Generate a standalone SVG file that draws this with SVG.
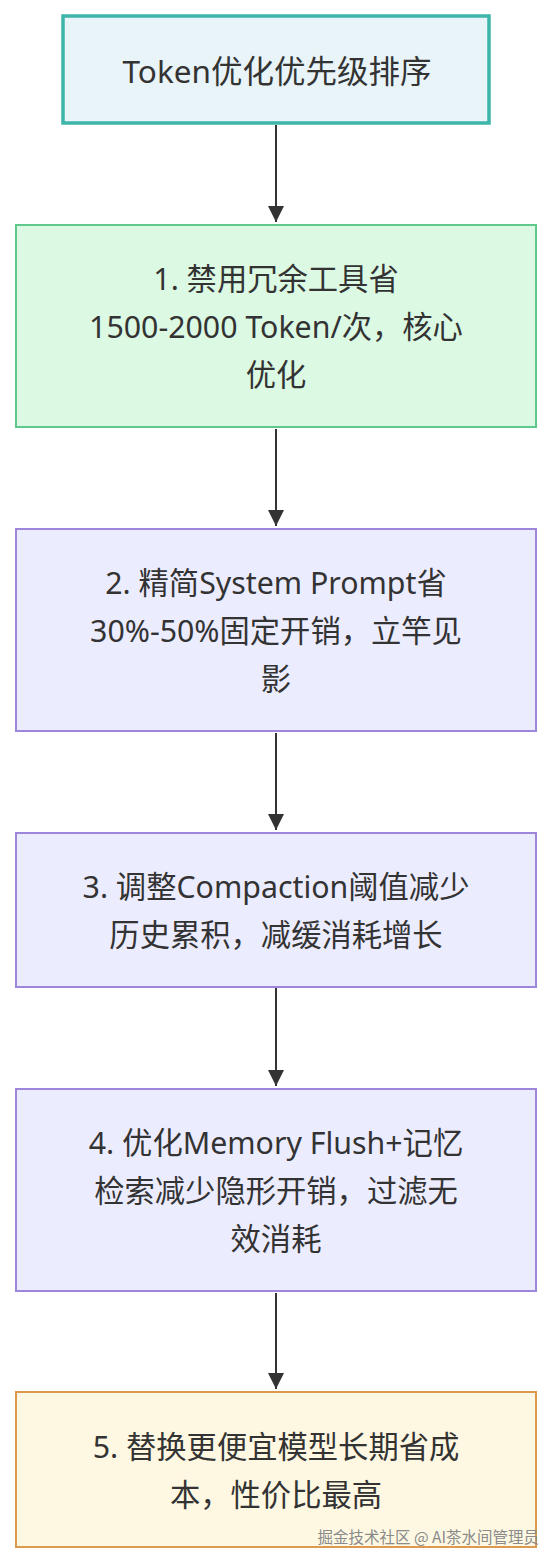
<svg xmlns="http://www.w3.org/2000/svg" width="552" height="1564" viewBox="0 0 552 1564">
<style>
.t{font-family:"Noto Sans","Noto Sans CJK SC",sans-serif;font-size:30.3px;fill:#333;text-anchor:middle;dominant-baseline:central}
.p{fill:#ececff;stroke:#9d86dc;stroke-width:2}
.e{stroke:#333;stroke-width:2;fill:none}
.wm{font-family:"Noto Sans CJK SC",sans-serif;font-size:15.5px;fill:#8a8a8a;text-anchor:end}
</style>
<defs>
<marker id="ah" markerWidth="8" markerHeight="8" refX="8" refY="4" orient="auto" markerUnits="strokeWidth" viewBox="0 0 8 8">
<path d="M0,0 L8,4 L0,8 z" fill="#333"/>
</marker>
</defs>
<rect width="552" height="1564" fill="#fff"/>
<g id="edges">
<line class="e" x1="276" y1="125" x2="276" y2="222" marker-end="url(#ah)"/>
<line class="e" x1="276" y1="429" x2="276" y2="526" marker-end="url(#ah)"/>
<line class="e" x1="276" y1="733" x2="276" y2="830" marker-end="url(#ah)"/>
<line class="e" x1="276" y1="988" x2="276" y2="1086" marker-end="url(#ah)"/>
<line class="e" x1="276" y1="1293" x2="276" y2="1389" marker-end="url(#ah)"/>
</g>
<g id="n0">
<rect x="63" y="16" width="426" height="107" fill="#e8f4f8" stroke="#3db5a9" stroke-width="3.5"/>
<text class="t" x="277" y="70" style="font-size:31.5px">Token优化优先级排序</text>
</g>
<g id="n1">
<rect x="16" y="225" width="520" height="202" fill="#dcf9e4" stroke="#5fc98b" stroke-width="2"/>
<text class="t" x="276" y="278">1. 禁用冗余工具省</text>
<text class="t" x="276" y="326">1500-2000 Token/次，核心</text>
<text class="t" x="276" y="374">优化</text>
</g>
<g id="n2">
<rect class="p" x="16" y="529" width="520" height="202"/>
<text class="t" x="276" y="582">2. 精简System Prompt省</text>
<text class="t" x="276" y="630">30%-50%固定开销，立竿见</text>
<text class="t" x="276" y="678">影</text>
</g>
<g id="n3">
<rect class="p" x="16" y="833" width="520" height="154"/>
<text class="t" x="276" y="886">3. 调整Compaction阈值减少</text>
<text class="t" x="276" y="934">历史累积，减缓消耗增长</text>
</g>
<g id="n4">
<rect class="p" x="16" y="1089" width="520" height="202"/>
<text class="t" x="276" y="1142">4. 优化Memory Flush+记忆</text>
<text class="t" x="276" y="1190">检索减少隐形开销，过滤无</text>
<text class="t" x="276" y="1238">效消耗</text>
</g>
<g id="n5">
<rect x="16" y="1392" width="520" height="155" fill="#fef8e2" stroke="#dd9a4e" stroke-width="2"/>
<text class="t" x="276" y="1446">5. 替换更便宜模型长期省成</text>
<text class="t" x="276" y="1494">本，性价比最高</text>
</g>
<text class="wm" x="539" y="1543">掘金技术社区 @ AI茶水间管理员</text>
</svg>
